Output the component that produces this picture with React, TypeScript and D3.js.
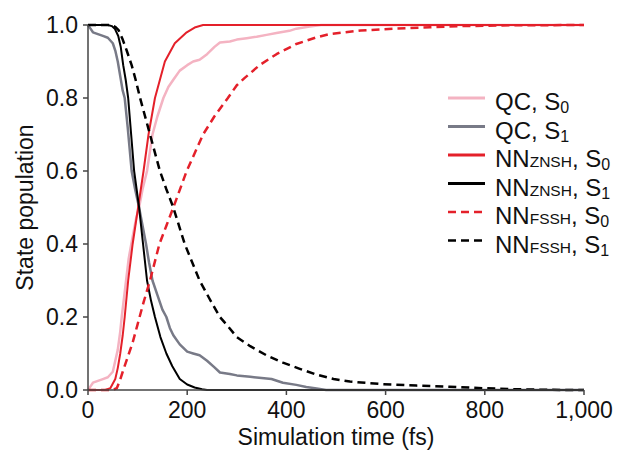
import React from "react";
import * as d3 from "d3";

// ---- data (time in fs, population) ----
const qcS0T = [0, 5, 10, 20, 30, 40, 50, 55, 60, 65, 68, 75, 82, 90, 97, 103, 110, 119, 130, 140, 152, 162, 172, 185, 200, 212, 225, 240, 255, 266, 286, 300, 320, 340, 360, 380, 406, 420, 447, 470, 1000];
const qcS0V = [0, 0.01, 0.02, 0.025, 0.03, 0.035, 0.05, 0.08, 0.11, 0.16, 0.2, 0.28, 0.36, 0.42, 0.47, 0.5, 0.55, 0.6, 0.7, 0.75, 0.8, 0.83, 0.85, 0.875, 0.89, 0.9, 0.905, 0.92, 0.94, 0.952, 0.955, 0.96, 0.964, 0.968, 0.973, 0.978, 0.984, 0.99, 0.996, 1, 1];

const qcS1T = [0, 5, 10, 20, 30, 40, 50, 55, 60, 65, 70, 74, 80, 88, 95, 103, 110, 117, 123, 130, 140, 150, 158, 165, 172, 185, 200, 212, 225, 240, 255, 266, 286, 300, 327, 350, 370, 393, 420, 440, 461, 480, 1000];
const qcS1V = [1, 0.99, 0.98, 0.975, 0.97, 0.965, 0.95, 0.93, 0.9, 0.86, 0.82, 0.8, 0.72, 0.6, 0.55, 0.5, 0.45, 0.4, 0.35, 0.3, 0.26, 0.22, 0.2, 0.17, 0.15, 0.125, 0.105, 0.1, 0.095, 0.08, 0.062, 0.048, 0.044, 0.04, 0.036, 0.033, 0.03, 0.02, 0.014, 0.008, 0.004, 0, 0];

const znS0T = [0, 35, 45, 55, 60, 65, 70, 74, 81, 90, 101, 112, 122, 135, 155, 175, 199, 215, 232, 1000];
const znS0V = [0, 0, 0.005, 0.03, 0.06, 0.1, 0.15, 0.2, 0.3, 0.4, 0.5, 0.6, 0.7, 0.8, 0.9, 0.95, 0.98, 0.993, 1, 1];

const znS1T = [0, 40, 48, 54, 61, 66, 71, 76, 81, 87, 93, 103, 111, 119, 127, 135, 146, 158, 170, 185, 200, 215, 230, 240, 1000];
const znS1V = [1, 1, 0.997, 0.99, 0.97, 0.94, 0.89, 0.85, 0.8, 0.7, 0.6, 0.5, 0.4, 0.3, 0.245, 0.2, 0.145, 0.1, 0.065, 0.03, 0.015, 0.007, 0.002, 0, 0];

const fsS0T = [0, 50, 58, 64, 70, 80, 90, 100, 112, 125, 144, 158, 172, 199, 232, 255, 282, 300, 316, 346, 380, 420, 460, 487, 550, 621, 690, 755, 850, 1000];
const fsS0V = [0, 0, 0.005, 0.025, 0.05, 0.09, 0.13, 0.18, 0.24, 0.3, 0.4, 0.45, 0.5, 0.6, 0.7, 0.75, 0.8, 0.835, 0.855, 0.89, 0.92, 0.948, 0.966, 0.975, 0.985, 0.99, 0.994, 0.997, 0.999, 1];

const fsS1T = [0, 45, 55, 62, 70, 78, 88, 96, 105, 121, 133, 145, 158, 172, 195, 225, 245, 266, 285, 300, 327, 360, 393, 427, 461, 495, 528, 595, 662, 729, 795, 863, 930, 1000];
const fsS1V = [1, 1, 0.995, 0.985, 0.96, 0.93, 0.89, 0.85, 0.8, 0.72, 0.66, 0.6, 0.55, 0.5, 0.4, 0.3, 0.25, 0.2, 0.17, 0.145, 0.12, 0.095, 0.075, 0.058, 0.042, 0.03, 0.023, 0.016, 0.012, 0.009, 0.005, 0.002, 0.0005, 0];

const xTicks = [0, 200, 400, 600, 800, 1000];
const yTicks = [0, 0.2, 0.4, 0.6, 0.8, 1.0];

type Series = { t: number[]; v: number[]; color: string; width: number; dash?: string; main: string; sub: string; state: string };

const series: Series[] = [
  { t: qcS0T, v: qcS0V, color: "#f4b3c2", width: 2.5, main: "QC", sub: "", state: "0" },
  { t: qcS1T, v: qcS1V, color: "#787a87", width: 2.5, main: "QC", sub: "", state: "1" },
  { t: znS0T, v: znS0V, color: "#e4202a", width: 2, main: "NN", sub: "ZNSH", state: "0" },
  { t: znS1T, v: znS1V, color: "#000000", width: 2, main: "NN", sub: "ZNSH", state: "1" },
  { t: fsS0T, v: fsS0V, color: "#e4202a", width: 2.5, dash: "8,5", main: "NN", sub: "FSSH", state: "0" },
  { t: fsS1T, v: fsS1V, color: "#000000", width: 2.5, dash: "8,5", main: "NN", sub: "FSSH", state: "1" },
];

const FONT = "'Liberation Sans', Arial, Helvetica, sans-serif";

export default function App() {
  const W = 624, H = 452;
  const x = d3.scaleLinear().domain([0, 1000]).range([88, 584]);
  const y = d3.scaleLinear().domain([0, 1]).range([390, 25]);
  const line = d3.line<[number, number]>().x(d => x(d[0])).y(d => y(d[1]));
  const fmtX = d3.format(",");
  const fmtY = d3.format(".1f");
  const axisColor = "#444";

  return (
    <svg width={W} height={H} style={{ position: "absolute", left: 0, top: 0, background: "#fff" }} fontFamily={FONT}>
      <rect x={0} y={0} width={W} height={H} fill="#fff" />
      {/* curves */}
      {series.map((s, i) => (
        <path key={i} d={line(s.t.map((t, j) => [t, s.v[j]] as [number, number])) || ""}
          fill="none" stroke={s.color} strokeWidth={s.width} strokeDasharray={s.dash}
          strokeLinejoin="round" />
      ))}
      {/* axes */}
      <line x1={x(0)} x2={x(1000)} y1={y(0)} y2={y(0)} stroke={axisColor} strokeWidth={1.5} />
      <line x1={x(0)} x2={x(0)} y1={y(0)} y2={y(1)} stroke={axisColor} strokeWidth={1.5} />
      {xTicks.map(t => (
        <g key={"xt" + t}>
          <line x1={x(t)} x2={x(t)} y1={y(0)} y2={y(0) + 5} stroke={axisColor} strokeWidth={1.5} />
          <text x={x(t)} y={418} fontSize={23} textAnchor="middle" fill="#111">{fmtX(t)}</text>
        </g>
      ))}
      {yTicks.map(v => (
        <g key={"yt" + v}>
          <line x1={x(0) - 5} x2={x(0)} y1={y(v)} y2={y(v)} stroke={axisColor} strokeWidth={1.5} />
          <text x={78} y={y(v) + 8} fontSize={23} textAnchor="end" fill="#111">{fmtY(v)}</text>
        </g>
      ))}
      <text x={336} y={445} fontSize={23} textAnchor="middle" fill="#111">Simulation time (fs)</text>
      <text transform={`translate(33,${y(0.5)}) rotate(-90)`} fontSize={23} textAnchor="middle" fill="#111">State population</text>
      {/* legend */}
      {series.map((s, i) => {
        const base = 110 + i * 28.5;
        const ly = base - 12;
        return (
          <g key={"lg" + i}>
            <line x1={448} x2={485} y1={ly} y2={ly} stroke={s.color} strokeWidth={s.dash ? 2.5 : 3} strokeDasharray={s.dash} />
            <text x={495} y={base} fontSize={24} fill="#111">
              <tspan>{s.main}</tspan>
              {s.sub ? <tspan fontSize={15.5}>{s.sub}</tspan> : null}
              <tspan>, S</tspan>
              <tspan fontSize={16} dy={3}>{s.state}</tspan>
            </text>
          </g>
        );
      })}
    </svg>
  );
}
